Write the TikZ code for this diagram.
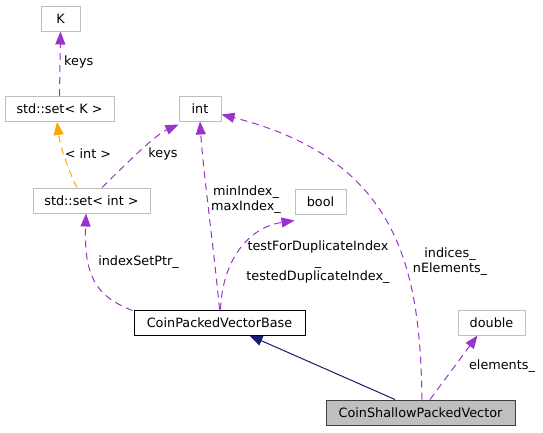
\documentclass[tikz,border=0pt]{standalone}
\usepackage{fontspec}
\setmainfont{DejaVu Sans}
\usetikzlibrary{arrows.meta}
\definecolor{edgepurple}{HTML}{9A32CD}
\definecolor{edgeorange}{HTML}{FFA500}
\definecolor{edgenavy}{HTML}{191970}
\definecolor{boxgray}{HTML}{BFBFBF}
\definecolor{boxdark}{HTML}{404040}
\begin{document}
\begin{tikzpicture}[x=1pt,y=-1pt,
  every node/.style={font=\fontsize{12.8}{15}\selectfont, text=black},
  cls/.style={draw=boxgray, fill=white, line width=1pt, minimum height=25pt, inner sep=0pt},
  docbox/.style={draw=black, fill=white, line width=1pt, minimum height=25pt, inner sep=0pt},
  mainbox/.style={draw=boxdark, fill=boxgray, line width=1pt, minimum height=25pt, inner sep=0pt},
  usage/.style={draw=edgepurple, line width=1pt, dash pattern=on 7pt off 5pt,
    -{Triangle[length=13pt,width=10pt,fill=edgepurple]}},
  tmpl/.style={draw=edgeorange, line width=1pt, dash pattern=on 7pt off 5pt,
    -{Triangle[length=13pt,width=10pt,fill=edgeorange]}},
  inherit/.style={draw=edgenavy, line width=1pt,
    -{Triangle[length=13pt,width=10pt,fill=edgenavy]}},
  lbl/.style={inner sep=0pt, align=center}
]
\useasboundingbox (0,0) rectangle (543,432);

% nodes
\node[cls, minimum width=39pt] (K) at (60.5,18.5) {K};
\node[cls, minimum width=109pt] (setK) at (59.5,109) {std::set< K >};
\node[cls, minimum width=117pt] (setint) at (91.5,200.5) {std::set< int >};
\node[cls, minimum width=42pt] (int) at (200,108.5) {int};
\node[cls, minimum width=51pt] (bool) at (320.5,201.5) {bool};
\node[docbox, minimum width=171pt] (cpvb) at (219.5,322.5) {CoinPackedVectorBase};
\node[cls, minimum width=67pt] (double) at (491.5,322.5) {double};
\node[mainbox, minimum width=189pt] (cspv) at (420.5,412.5) {CoinShallowPackedVector};

% edges
\draw[usage] (setK.north) -- (K.south);
\node[lbl, anchor=west] (lkeys1) at (64,62) {keys};

\draw[tmpl] ([xshift=-14.5pt]setint.north) .. controls (68,170) and (60,145) .. ([xshift=-2.5pt]setK.south);
\node[lbl] (lint) at (88,154) {< int >};

\draw[usage] ([xshift=10.5pt]setint.north) .. controls (125,165) and (155,135) .. ([yshift=-3pt]int.south west);
\node[lbl] (lkeys2) at (163,154) {keys};

\draw[usage] ([xshift=-1pt,yshift=-1pt]cpvb.north west) .. controls (95,296) and (84,275) .. ([xshift=-5.5pt]setint.south);
\node[lbl] (lidx) at (138.5,262) {indexSetPtr\_};

\draw[usage] ([xshift=0pt]cpvb.north) .. controls (214,250) and (203,170) .. (int.south);
\node[lbl] (lminmax) at (246,200) {minIndex\_\\maxIndex\_};

\draw[usage] ([xshift=1pt]cpvb.north) .. controls (222,265) and (245,228) .. ([yshift=-6pt]bool.south west);
\node[lbl] (ltest) at (318,262) {testForDuplicateIndex\\\_\\testedDuplicateIndex\_};

\draw[usage] ([xshift=1.5pt]cspv.north) .. controls (420,270) and (400,160) .. ([yshift=-6pt]int.east);
\node[lbl] (lind) at (450,262) {indices\_\\nElements\_};

\draw[usage] ([xshift=9.5pt]cspv.north) -- ([xshift=-14pt]double.south);
\node[lbl] (lel) at (502,366) {elements\_};

\draw[inherit] ([xshift=-25.5pt]cspv.north) -- ([xshift=30pt]cpvb.south);
\end{tikzpicture}
\end{document}
